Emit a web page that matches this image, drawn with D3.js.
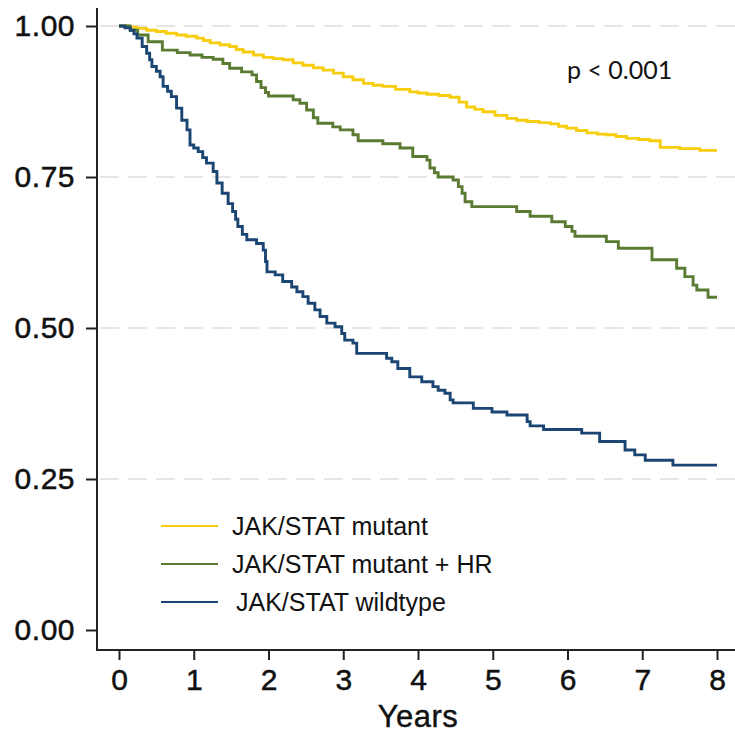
<!DOCTYPE html>
<html>
<head>
<meta charset="utf-8">
<script src="https://cdn.jsdelivr.net/npm/d3@7"></script>
<style>
  html, body { margin: 0; padding: 0; background: #fff; }
  svg { display: block; font-family: "Liberation Sans", Arial, sans-serif; }
</style>
</head>
<body>
<svg id="chart" width="735" height="733"></svg>
<script>
// Kaplan-Meier curves, values
const mutantTime = [0, 0.12, 0.24, 0.37, 0.5, 0.63, 0.77, 0.9, 1.04, 1.13, 1.22, 1.35, 1.48, 1.57, 1.66, 1.8, 1.93, 2.06, 2.19, 2.33, 2.46, 2.6, 2.73, 2.87, 3.0, 3.13, 3.27, 3.4, 3.53, 3.7, 3.89, 4.0, 4.12, 4.28, 4.43, 4.55, 4.65, 4.76, 4.87, 5.03, 5.19, 5.32, 5.46, 5.62, 5.77, 5.88, 5.99, 6.12, 6.26, 6.4, 6.52, 6.65, 6.79, 6.95, 7.1, 7.24, 7.5, 7.77, 8.0];
const mutantSurv = [1, .998, .996, .993, .991, .988, .985, .983, .980, .976, .972, .969, .966, .961, .957, .952, .948, .946, .944, .939, .935, .931, .927, .922, .916, .911, .905, .902, .900, .895, .891, .889, .887, .885, .882, .874, .866, .862, .858, .852, .847, .844, .842, .840, .838, .834, .831, .827, .823, .821, .820, .817, .814, .812, .810, .799, .797, .794, .794];

const hrTime = [0, 0.15, 0.25, 0.39, 0.58, 0.78, 0.95, 1.11, 1.26, 1.39, 1.48, 1.64, 1.78, 1.84, 1.90, 1.96, 2.0, 2.33, 2.42, 2.51, 2.60, 2.66, 2.86, 2.96, 3.13, 3.2, 3.53, 3.76, 3.93, 4.12, 4.16, 4.22, 4.27, 4.47, 4.54, 4.59, 4.63, 4.72, 5.32, 5.5, 5.79, 5.97, 6.06, 6.1, 6.52, 6.68, 7.13, 7.46, 7.57, 7.68, 7.73, 7.88, 8.0];
const hrSurv = [1, .993, .985, .974, .960, .956, .952, .948, .945, .938, .930, .924, .919, .908, .898, .890, .884, .878, .872, .861, .848, .839, .833, .828, .820, .810, .805, .798, .784, .778, .765, .757, .750, .745, .734, .723, .709, .701, .693, .685, .676, .668, .660, .652, .643, .632, .613, .599, .585, .571, .563, .551, .551];

const wildTime = [0, 0.08, 0.15, 0.2, 0.24, 0.31, 0.37, 0.41, 0.44, 0.5, 0.55, 0.59, 0.65, 0.7, 0.77, 0.84, 0.91, 0.95, 1.0, 1.06, 1.12, 1.17, 1.26, 1.31, 1.38, 1.46, 1.52, 1.56, 1.59, 1.65, 1.71, 1.84, 1.93, 1.96, 1.98, 2.09, 2.19, 2.31, 2.38, 2.46, 2.53, 2.62, 2.69, 2.78, 2.89, 2.98, 3.02, 3.13, 3.18, 3.58, 3.65, 3.73, 3.89, 4.05, 4.2, 4.27, 4.36, 4.43, 4.47, 4.74, 4.99, 5.19, 5.46, 5.5, 5.68, 6.19, 6.43, 6.77, 6.9, 7.04, 7.41, 8.0];
const wildSurv = [1, .997, .993, .987, .980, .966, .955, .944, .933, .925, .916, .900, .892, .883, .864, .844, .828, .803, .798, .792, .782, .773, .759, .740, .723, .706, .693, .680, .668, .655, .646, .640, .629, .610, .593, .588, .577, .568, .560, .552, .541, .530, .519, .508, .502, .491, .480, .475, .458, .450, .444, .433, .419, .411, .403, .397, .392, .381, .376, .367, .361, .356, .345, .338, .332, .326, .312, .298, .290, .281, .273, .273];

const seriesNames = ["JAK/STAT mutant", "JAK/STAT mutant + HR", "JAK/STAT wildtype"];
const seriesColors = ["#f7ce0f", "#5b7b33", "#1b4572"];
const xTicks = [0, 1, 2, 3, 4, 5, 6, 7, 8];
const yTicks = [0, 0.25, 0.5, 0.75, 1];
const gridTicks = [0.25, 0.5, 0.75, 1];
const pLabel = "p < 0.001";
const xTitle = "Years";

const series = [
  { name: seriesNames[0], color: seriesColors[0], values: mutantTime.map((t, i) => ({ t: t, s: mutantSurv[i] })) },
  { name: seriesNames[1], color: seriesColors[1], values: hrTime.map((t, i) => ({ t: t, s: hrSurv[i] })) },
  { name: seriesNames[2], color: seriesColors[2], values: wildTime.map((t, i) => ({ t: t, s: wildSurv[i] })) }
];

const svg = d3.select("#chart");
const axisLeft = 97, axisBottom = 650;

const x = d3.scaleLinear().domain([0, 8]).range([119, 717]);
const y = d3.scaleLinear().domain([0, 1]).range([630, 26]);

// dashed grid
svg.append("g")
  .selectAll("line")
  .data(gridTicks)
  .join("line")
  .attr("x1", axisLeft + 3)
  .attr("x2", 735)
  .attr("y1", d => y(d))
  .attr("y2", d => y(d))
  .attr("stroke", "#e6e6e6")
  .attr("stroke-width", 2)
  .attr("stroke-dasharray", "19,9");

// y axis
const yAxis = svg.append("g")
  .attr("transform", `translate(${axisLeft},0)`)
  .call(d3.axisLeft(y).tickValues(yTicks).tickFormat(d3.format(".2f")).tickSize(11).tickPadding(11));
yAxis.select(".domain").remove();
yAxis.append("line")
  .attr("x1", 0).attr("x2", 0)
  .attr("y1", 8).attr("y2", axisBottom + 1)
  .attr("stroke", "#222").attr("stroke-width", 2);
yAxis.selectAll(".tick line").attr("stroke", "#222").attr("stroke-width", 2);
yAxis.selectAll(".tick text")
  .attr("fill", "#111")
  .attr("stroke", "#111")
  .attr("stroke-width", 0.5)
  .style("font-size", "30px")
  .style("letter-spacing", "0.5px")
  .style("font-family", "'Liberation Sans', Arial, sans-serif");

// x axis
const xAxis = svg.append("g")
  .attr("transform", `translate(0,${axisBottom})`)
  .call(d3.axisBottom(x).tickValues(xTicks).tickFormat(d3.format("d")).tickSize(10).tickPadding(9));
xAxis.select(".domain").remove();
xAxis.append("line")
  .attr("x1", axisLeft - 1).attr("x2", 735)
  .attr("y1", 0).attr("y2", 0)
  .attr("stroke", "#222").attr("stroke-width", 2);
xAxis.selectAll(".tick line").attr("stroke", "#222").attr("stroke-width", 2);
xAxis.selectAll(".tick text")
  .attr("fill", "#111")
  .attr("stroke", "#111")
  .attr("stroke-width", 0.5)
  .style("font-size", "30px")
  .style("font-family", "'Liberation Sans', Arial, sans-serif");

svg.append("text")
  .attr("x", (x(0) + x(8)) / 2)
  .attr("y", 727)
  .attr("text-anchor", "middle")
  .attr("fill", "#111")
  .attr("stroke", "#111")
  .attr("stroke-width", 0.4)
  .style("font-size", "31px")
  .style("letter-spacing", "0.5px")
  .text(xTitle);

// survival curves
const line = d3.line()
  .x(d => x(d.t))
  .y(d => y(d.s))
  .curve(d3.curveStepAfter);

svg.append("g")
  .selectAll("path")
  .data(series)
  .join("path")
  .attr("d", d => line(d.values))
  .attr("fill", "none")
  .attr("stroke", d => d.color)
  .attr("stroke-width", 2.9)
  .attr("stroke-linejoin", "miter");

// p value
svg.append("text")
  .attr("x", 567)
  .attr("y", 79)
  .attr("fill", "#111")
  .style("font-family", "Lato, 'Open Sans', sans-serif")
  .style("font-size", "25px")
  .text(pLabel);

// legend
const legend = svg.append("g")
  .selectAll("g")
  .data(series)
  .join("g")
  .attr("transform", (d, i) => `translate(161,${526 + i * 38})`);

legend.append("line")
  .attr("x1", 0).attr("x2", 57)
  .attr("stroke", d => d.color)
  .attr("stroke-width", 2);

legend.append("text")
  .attr("x", (d, i) => i === 2 ? 75 : 71)
  .attr("y", 9)
  .attr("fill", "#111")
  .style("font-size", "25px")
  .text(d => d.name);
</script>
</body>
</html>
